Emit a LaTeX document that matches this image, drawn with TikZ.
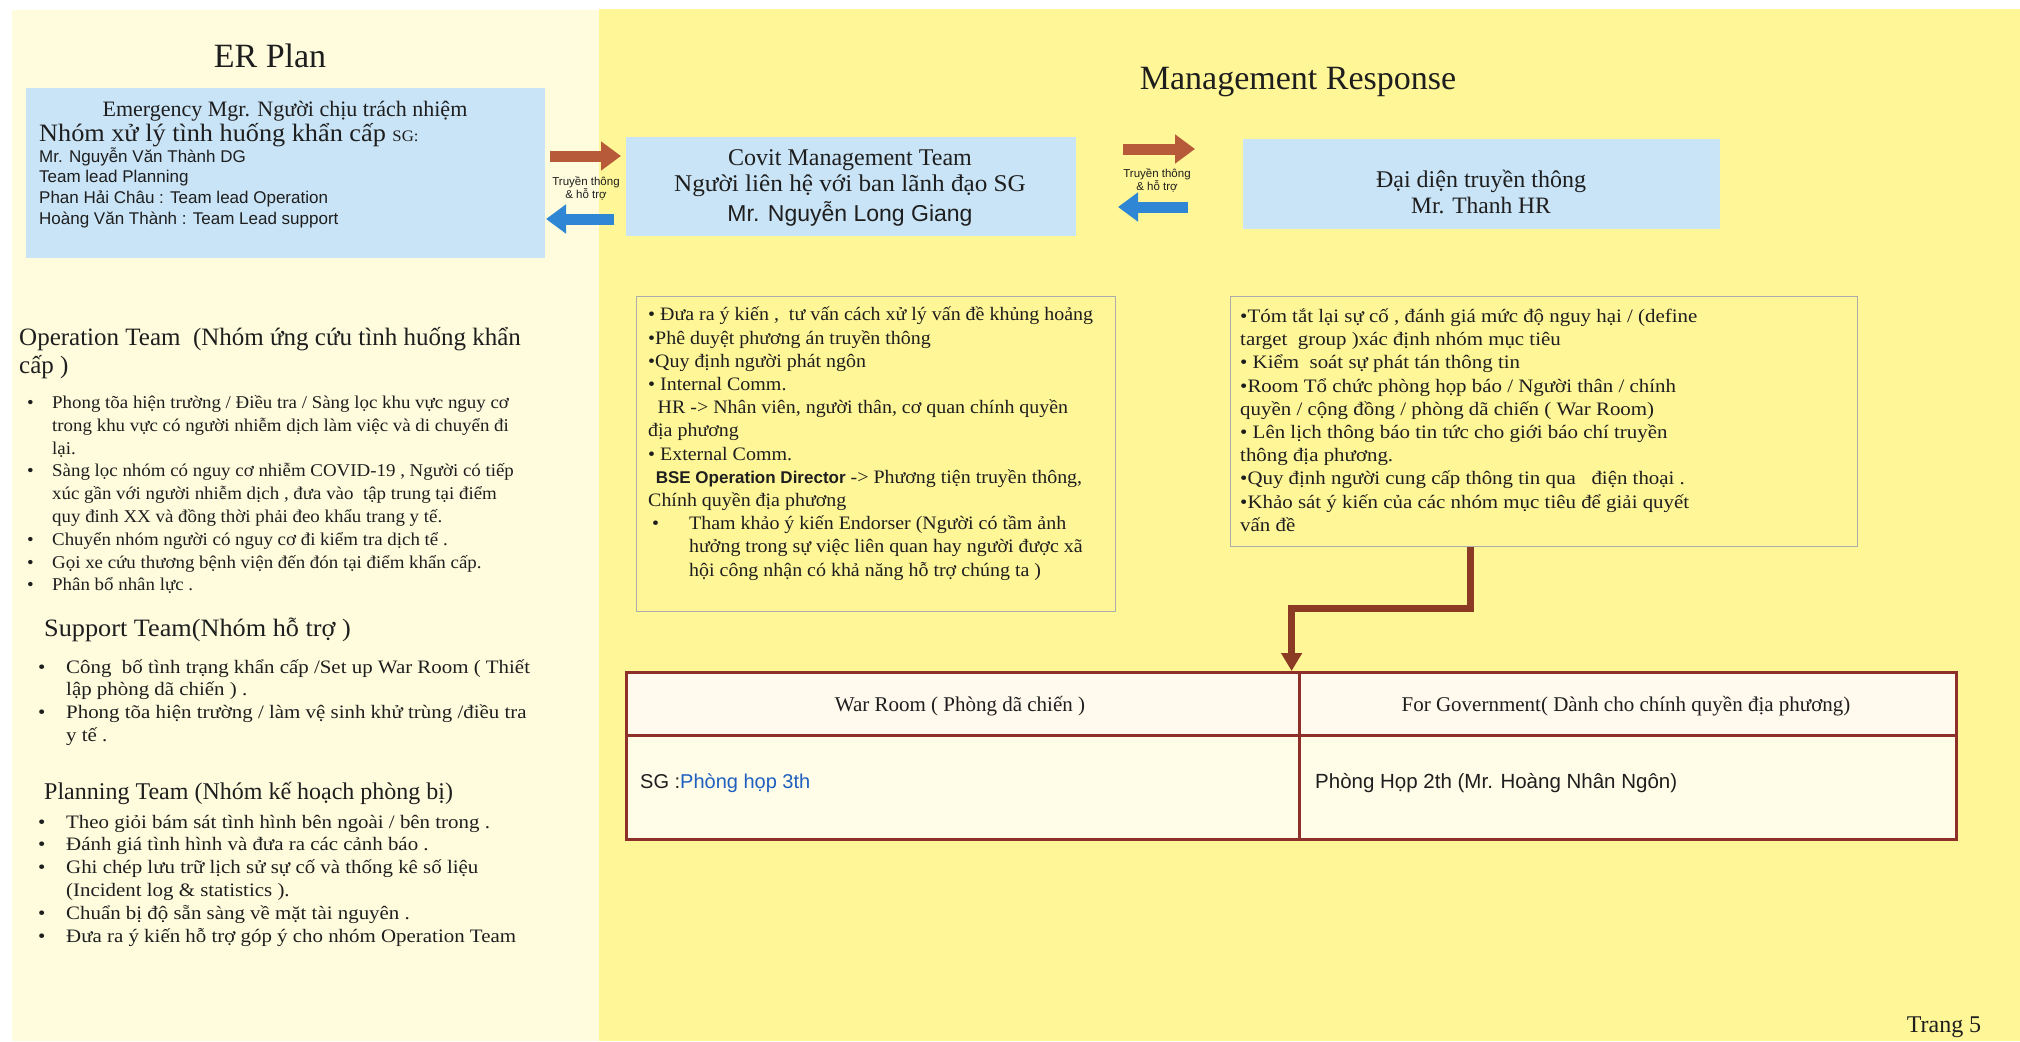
\documentclass[tikz,border=0pt]{standalone}
\usepackage{fontspec}
\setmainfont{Liberation Serif}
\newfontfamily\sansf{Liberation Sans}
\newfontfamily\mserif[FakeStretch=1.05]{Liberation Serif}
\newfontfamily\wserif[FakeStretch=1.1]{Liberation Serif}
\usetikzlibrary{arrows.meta,calc}
\definecolor{leftbg}{HTML}{FEFCDD}
\definecolor{rightbg}{HTML}{FFF697}
\definecolor{boxblue}{HTML}{C9E4F6}
\definecolor{arrred}{HTML}{B65A3A}
\definecolor{arrblue}{HTML}{2E86D4}
\definecolor{connbrown}{HTML}{8B3A24}
\definecolor{tabline}{HTML}{8E2F2A}
\definecolor{linkblue}{HTML}{1F5FBF}
\definecolor{textc}{HTML}{1E1E1E}
\definecolor{headfill}{HTML}{FFF9EE}
\definecolor{bodyfill}{HTML}{FFFCE8}
\newcommand{\setfs}[2]{\fontsize{#1}{#2}\selectfont}
\renewcommand{\arraystretch}{1}
\begin{document}
\begin{tikzpicture}[x=1pt,y=-1pt,
  every node/.style={text=textc},
  bluebox/.style={fill=boxblue, draw=none, inner sep=0pt, anchor=north west},
  notebox/.style={draw=gray!65, line width=0.9pt, fill=none, inner sep=0pt, anchor=north west},
  txt/.style={inner sep=0pt},
  block/.style={inner sep=0pt, anchor=north west, align=left},
  fwd/.style={draw=arrred, line width=11pt, -{Triangle[length=20pt,width=28pt]}},
  bwd/.style={draw=arrblue, line width=11pt, -{Triangle[length=20pt,width=28pt]}},
  lbl/.style={inner sep=0pt, align=center, font=\sansf\setfs{11.5}{13}},
  conn/.style={draw=connbrown, line width=7pt, -{Triangle[length=18pt,width=20pt]}},
  cell/.style={draw=tabline, line width=2.6pt, inner sep=0pt, anchor=north west},
]
\useasboundingbox (0,0) rectangle (2020,1041);
\fill[white] (0,0) rectangle (2020,1041);
% panels
\fill[leftbg] (12,10) rectangle (599,1041);
\fill[rightbg] (599,9) rectangle (2020,1041);

% titles
\node[txt, font=\setfs{34}{40}] (erplan) at (270,56) {ER Plan};
\node[txt, font=\setfs{34}{40}] (mgmt) at (1298,82) {Management Response};
\node[txt, font=\setfs{24}{28}] (page) at (1944,1027) {Trang 5};

% Emergency box
\node[bluebox, minimum width=519pt, minimum height=170pt] (em) at (26,88) {};
\node[txt, anchor=base, font=\setfs{22}{26}] (em1) at (285,116) {Emergency Mgr. Người chịu trách nhiệm};
\node[txt, anchor=base west, font=\mserif\setfs{25}{28}] (em2) at (39,141) {Nhóm xử lý tình huống khẩn cấp {\setfs{16}{18}SG:}};
\node[txt, anchor=base west, font=\sansf\setfs{17}{20}] (em3) at (39,162) {Mr. Nguyễn Văn Thành DG};
\node[txt, anchor=base west, font=\sansf\setfs{17}{20}] (em4) at (39,182) {Team lead Planning};
\node[txt, anchor=base west, font=\sansf\setfs{17}{20}] (em5) at (39,203) {Phan Hải Châu : Team lead Operation};
\node[txt, anchor=base west, font=\sansf\setfs{17}{20}] (em6) at (39,224) {Hoàng Văn Thành : Team Lead support};

% Covit box
\node[bluebox, minimum width=450pt, minimum height=99pt] (covit) at (626,137) {};
\node[txt, anchor=base, font=\setfs{24}{28}] (cv1) at (850,165) {Covit Management Team};
\node[txt, anchor=base, font=\mserif\setfs{24}{28}] (cv2) at (850,191) {Người liên hệ với ban lãnh đạo SG};
\node[txt, anchor=base, font=\sansf\setfs{23}{26}] (cv3) at (850,221) {Mr. Nguyễn Long Giang};

% Dai dien box
\node[bluebox, minimum width=477pt, minimum height=90pt] (dd) at (1243,139) {};
\node[txt, anchor=base, font=\setfs{24}{28}] (dd1) at (1481,187) {Đại diện truyền thông};
\node[txt, anchor=base, font=\setfs{23.5}{28}] (dd2) at (1481,213) {Mr. Thanh HR};

% arrows left pair
\coordinate (a1s) at (550,156);
\coordinate (a1e) at (621,156);
\coordinate (b1s) at (614,219);
\coordinate (b1e) at (546,219);
\draw[fwd] (a1s) -- (a1e);
\draw[bwd] (b1s) -- (b1e);
\node[lbl] (l1) at (586,188) {Truyền thông\\\& hỗ trợ};
% arrows right pair
\coordinate (a2s) at (1123,149);
\coordinate (a2e) at (1195,149);
\coordinate (b2s) at (1188,207);
\coordinate (b2e) at (1118,207);
\draw[fwd] (a2s) -- (a2e);
\draw[bwd] (b2s) -- (b2e);
\node[lbl] (l2) at (1157,180) {Truyền thông\\\& hỗ trợ};

% Covit notes box
\node[notebox, minimum width=479pt, minimum height=315pt] (cbox) at (636,296) {};
\node[block, font=\mserif\setfs{19}{23.2}] (ctext) at (648,304.5) {%
\begin{tabular}{@{}l@{}}
• Đưa ra ý kiến ,\ \ tư vấn cách xử lý vấn đề khủng hoảng\\
•Phê duyệt phương án truyền thông\\
•Quy định người phát ngôn\\
• Internal Comm.\\
\hspace*{0.5em}HR -> Nhân viên, người thân, cơ quan chính quyền\\
địa phương\\
• External Comm.\\
\hspace*{0.4em}{\sansf\bfseries\setfs{17}{23.2}BSE Operation Director} -> Phương tiện truyền thông,\\
Chính quyền địa phương\\
\hspace*{4pt}\makebox[37pt][l]{•}Tham khảo ý kiến Endorser (Người có tầm ảnh\\
\hspace*{41pt}hưởng trong sự việc liên quan hay người được xã\\
\hspace*{41pt}hội công nhận có khả năng hỗ trợ chúng ta )
\end{tabular}};

% Right notes box
\node[notebox, minimum width=627pt, minimum height=250pt] (rbox) at (1230,296) {};
\node[block, font=\wserif\setfs{19}{23.2}] (rtext) at (1240,306) {%
\begin{tabular}{@{}l@{}}
•Tóm tắt lại sự cố , đánh giá mức độ nguy hại / (define\\
target\ \ group )xác định nhóm mục tiêu\\
• Kiểm\ \ soát sự phát tán thông tin\\
•Room Tổ chức phòng họp báo / Người thân / chính\\
quyền / cộng đồng / phòng dã chiến ( War Room)\\
• Lên lịch thông báo tin tức cho giới báo chí truyền\\
thông địa phương.\\
•Quy định người cung cấp thông tin qua\ \ \ điện thoại .\\
•Khảo sát ý kiến của các nhóm mục tiêu để giải quyết\\
vấn đề
\end{tabular}};

% Table
\node[cell, fill=headfill, minimum width=673pt, minimum height=63pt] (h1) at (625,671) {};
\node[cell, fill=headfill, minimum width=657pt, minimum height=63pt] (h2) at (1298,671) {};
\node[cell, fill=bodyfill, minimum width=673pt, minimum height=104pt] (c1) at (625,734) {};
\node[cell, fill=bodyfill, minimum width=657pt, minimum height=104pt] (c2) at (1298,734) {};
\node[txt, font=\setfs{21}{24}] (h1t) at (960,706) {War Room ( Phòng dã chiến )};
\node[txt, font=\setfs{21}{24}] (h2t) at (1626,706) {For Government( Dành cho chính quyền địa phương)};
\node[txt, anchor=west, font=\sansf\setfs{20}{24}] (c1t) at (640,783) {SG :\textcolor{linkblue}{Phòng họp 3th}};
\node[txt, anchor=west, font=\sansf\setfs{20.5}{24}] (c2t) at (1315,783) {Phòng Họp 2th (Mr. Hoàng Nhân Ngôn)};

% connector
\draw[conn] ([xshift=240pt]rbox.south west) -- ++(0,62) -| ([xshift=-9pt]h1.north east);

% Left panel lists
\node[block, font=\setfs{25}{28}] (opH) at (19,326) {%
\begin{tabular}{@{}l@{}}
Operation Team\ \ (Nhóm ứng cứu tình huống khẩn\\
cấp )
\end{tabular}};
\node[block, font=\mserif\setfs{18}{22.8}] (opL) at (27,392.4) {%
\begin{tabular}{@{}p{25pt}@{}l@{}}
• & Phong tõa hiện trường / Điều tra / Sàng lọc khu vực nguy cơ\\
 & trong khu vực có người nhiễm dịch làm việc và di chuyển đi\\
 & lại.\\
• & Sàng lọc nhóm có nguy cơ nhiễm COVID-19 , Người có tiếp\\
 & xúc gần với người nhiễm dịch , đưa vào\ \ tập trung tại điểm\\
 & quy đinh XX và đồng thời phải đeo khẩu trang y tế.\\
• & Chuyển nhóm người có nguy cơ đi kiểm tra dịch tể .\\
• & Gọi xe cứu thương bệnh viện đến đón tại điểm khẩn cấp.\\
• & Phân bổ nhân lực .
\end{tabular}};

\node[txt, anchor=base west, font=\mserif\setfs{25}{28}] (suH) at (44,636.5) {Support Team(Nhóm hỗ trợ )};
\node[block, font=\wserif\setfs{19}{22.8}] (suL) at (38,657) {%
\begin{tabular}{@{}p{28pt}@{}l@{}}
• & Công\ \ bố tình trạng khẩn cấp /Set up War Room ( Thiết\\
 & lập phòng dã chiến ) .\\
• & Phong tõa hiện trường / làm vệ sinh khử trùng /điều tra\\
 & y tế .
\end{tabular}};

\node[txt, anchor=base west, font=\setfs{24}{28}] (plH) at (44,799.5) {Planning Team (Nhóm kế hoạch phòng bị)};
\node[block, font=\wserif\setfs{19}{22.8}] (plL) at (38,812) {%
\begin{tabular}{@{}p{28pt}@{}l@{}}
• & Theo giỏi bám sát tình hình bên ngoài / bên trong .\\
• & Đánh giá tình hình và đưa ra các cảnh báo .\\
• & Ghi chép lưu trữ lịch sử sự cố và thống kê số liệu\\
 & (Incident log \& statistics ).\\
• & Chuẩn bị độ sẵn sàng về mặt tài nguyên .\\
• & Đưa ra ý kiến hỗ trợ góp ý cho nhóm Operation Team
\end{tabular}};
\end{tikzpicture}
\end{document}
